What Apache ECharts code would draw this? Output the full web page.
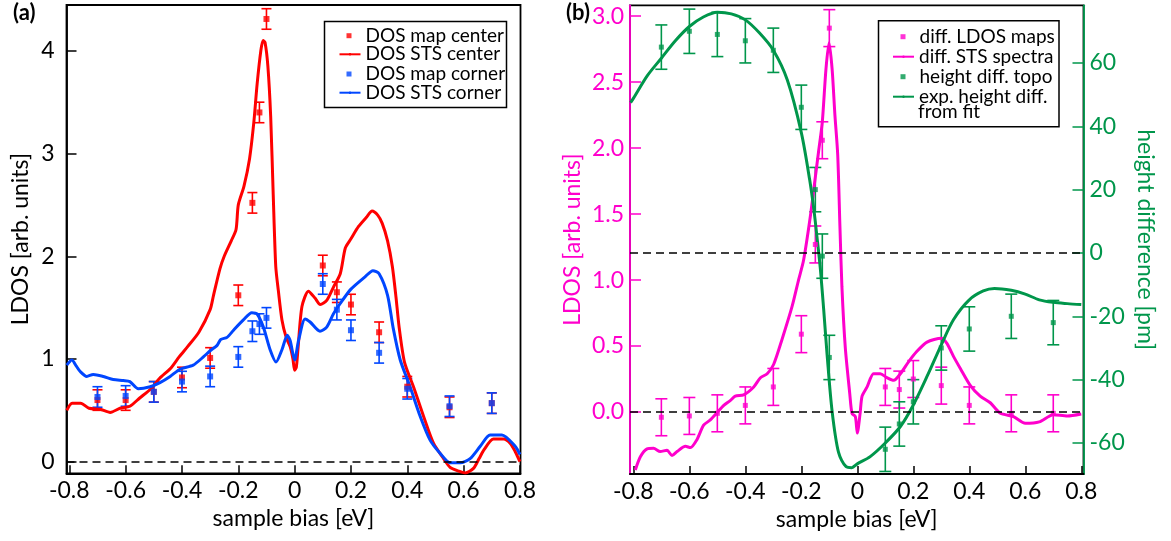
<!DOCTYPE html>
<html>
<head>
<meta charset="utf-8">
<style>
  html, body { margin: 0; padding: 0; background: #fff; }
  #chart { width: 1171px; height: 541px; }
</style>
</head>
<body>
<div id="chart"></div>
<script src="https://cdn.jsdelivr.net/npm/echarts@6.0.0/dist/echarts.min.js"></script>
<script>
// ---- (a) DOS maps: bias [eV], LDOS and error ----
const mapBias = [-0.7, -0.6, -0.5, -0.4, -0.3, -0.2, -0.15, -0.125, -0.1, 0.1, 0.15, 0.2, 0.3, 0.4, 0.55, 0.7];
const mapCenter = [0.6, 0.6, 0.68, 0.82, 1.01, 1.62, 2.52, 3.4, 4.31, 1.91, 1.65, 1.53, 1.26, 0.73, 0.53, 0.57];
const mapCenterErr = [0.1, 0.1, 0.1, 0.1, 0.1, 0.1, 0.1, 0.1, 0.1, 0.1, 0.1, 0.1, 0.1, 0.1, 0.1, 0.1];
const mapCorner = [0.63, 0.64, 0.68, 0.78, 0.83, 1.02, 1.27, 1.34, 1.4, 1.73, 1.48, 1.28, 1.06, 0.71, 0.54, 0.57];
const mapCornerErr = [0.1, 0.1, 0.1, 0.1, 0.1, 0.1, 0.1, 0.1, 0.1, 0.1, 0.1, 0.1, 0.1, 0.1, 0.1, 0.1];

// ---- (a) STS spectra: [bias, LDOS] ----
const stsCenter = [
  [-0.809, 0.5], [-0.79, 0.57], [-0.76, 0.57], [-0.73, 0.52], [-0.69, 0.51], [-0.655, 0.48],
  [-0.62, 0.52], [-0.585, 0.54], [-0.55, 0.62], [-0.51, 0.71], [-0.48, 0.81], [-0.44, 0.91],
  [-0.41, 1.02], [-0.38, 1.12], [-0.34, 1.26], [-0.3, 1.48], [-0.288, 1.62], [-0.265, 1.88],
  [-0.25, 2.0], [-0.225, 2.15], [-0.208, 2.26], [-0.2, 2.5], [-0.18, 2.68], [-0.16, 2.95],
  [-0.145, 3.3], [-0.133, 3.68], [-0.12, 4.0], [-0.112, 4.1], [-0.105, 4.08], [-0.095, 3.85],
  [-0.085, 3.36], [-0.076, 2.6], [-0.067, 1.9], [-0.058, 1.67], [-0.045, 1.38], [-0.03, 1.21],
  [-0.016, 1.12], [-0.006, 1.0], [0, 0.89], [0.006, 0.92], [0.012, 1.1], [0.026, 1.51],
  [0.049, 1.66], [0.073, 1.59], [0.091, 1.53], [0.114, 1.57], [0.138, 1.7], [0.162, 1.83],
  [0.18, 2.08], [0.2, 2.17], [0.227, 2.29], [0.255, 2.38], [0.275, 2.44], [0.295, 2.4],
  [0.311, 2.32], [0.33, 2.15], [0.347, 1.9], [0.36, 1.6], [0.371, 1.31], [0.39, 0.97],
  [0.422, 0.73], [0.458, 0.44], [0.493, 0.18], [0.529, 0.03], [0.552, -0.055], [0.58, -0.09],
  [0.606, -0.11], [0.635, -0.065], [0.655, 0.03], [0.671, 0.11], [0.706, 0.22], [0.742, 0.22],
  [0.765, 0.18], [0.783, 0.1], [0.8, 0.0]
];
const stsCorner = [
  [-0.809, 0.94], [-0.791, 0.99], [-0.775, 0.93], [-0.762, 0.88], [-0.738, 0.83], [-0.715, 0.85],
  [-0.679, 0.83], [-0.644, 0.8], [-0.608, 0.79], [-0.585, 0.78], [-0.555, 0.71], [-0.513, 0.73],
  [-0.478, 0.77], [-0.442, 0.83], [-0.407, 0.9], [-0.36, 0.94], [-0.324, 1.02], [-0.3, 1.08],
  [-0.276, 1.13], [-0.262, 1.19], [-0.24, 1.21], [-0.217, 1.28], [-0.182, 1.38], [-0.152, 1.45],
  [-0.134, 1.44], [-0.111, 1.31], [-0.087, 1.09], [-0.066, 0.97], [-0.045, 1.09], [-0.026, 1.23],
  [-0.016, 1.18], [0, 0.99], [0.014, 1.18], [0.037, 1.39], [0.055, 1.36], [0.09, 1.27],
  [0.114, 1.31], [0.138, 1.44], [0.162, 1.54], [0.2, 1.68], [0.25, 1.8], [0.278, 1.86],
  [0.3, 1.83], [0.33, 1.62], [0.35, 1.3], [0.375, 0.99], [0.41, 0.73], [0.446, 0.44],
  [0.481, 0.21], [0.517, 0.08], [0.552, -0.01], [0.588, -0.01], [0.623, 0.03], [0.659, 0.15],
  [0.694, 0.26], [0.736, 0.26], [0.783, 0.15], [0.8, 0.07]
];

// ---- (b) difference maps and topography heights ----
const diffBias = [-0.7, -0.6, -0.5, -0.4, -0.3, -0.2, -0.15, -0.125, -0.1, 0.1, 0.15, 0.2, 0.3, 0.4, 0.55, 0.7];
const diffMap = [-0.04, -0.03, -0.01, 0.05, 0.19, 0.59, 1.27, 2.06, 2.91, 0.19, 0.17, 0.25, 0.2, 0.05, -0.01, -0.01];
const diffMapErr = [0.14, 0.14, 0.14, 0.14, 0.14, 0.14, 0.14, 0.14, 0.14, 0.14, 0.14, 0.14, 0.14, 0.14, 0.14, 0.14];
const topoHeight = [65, 70, 69, 67, 64, 46, 20, -1, -33, -62, -54, -47, -30, -24, -20, -22];
const topoErr = [7, 7, 7, 7, 7, 7, 7, 7, 7, 7, 7, 7, 7, 7, 7, 7];

// ---- (b) curves: [bias, value] ----
const diffSts = [
  [-0.793, -0.44], [-0.775, -0.34], [-0.751, -0.28], [-0.728, -0.275], [-0.704, -0.3], [-0.68, -0.29],
  [-0.662, -0.33], [-0.644, -0.3], [-0.614, -0.26], [-0.596, -0.27], [-0.573, -0.21], [-0.549, -0.1],
  [-0.525, -0.06], [-0.501, -0.005], [-0.477, 0.05], [-0.454, 0.086], [-0.436, 0.12], [-0.406, 0.13],
  [-0.37, 0.19], [-0.346, 0.26], [-0.322, 0.29], [-0.299, 0.36], [-0.269, 0.55], [-0.233, 0.8],
  [-0.21, 1.0], [-0.192, 1.15], [-0.168, 1.48], [-0.15, 1.78], [-0.138, 1.98], [-0.125, 2.2],
  [-0.112, 2.6], [-0.101, 2.8], [-0.09, 2.6], [-0.08, 2.25], [-0.07, 1.95], [-0.062, 1.4],
  [-0.055, 0.95], [-0.043, 0.49], [-0.027, 0.14], [-0.019, -0.01], [-0.007, -0.035], [0, -0.16],
  [0.01, -0.01], [0.017, 0.12], [0.035, 0.19], [0.058, 0.29], [0.082, 0.29], [0.106, 0.26],
  [0.13, 0.24], [0.154, 0.29], [0.183, 0.38], [0.213, 0.46], [0.249, 0.53], [0.3, 0.56],
  [0.32, 0.52], [0.344, 0.42], [0.368, 0.33], [0.404, 0.2], [0.439, 0.12], [0.475, 0.07],
  [0.511, -0.01], [0.558, -0.035], [0.6, -0.086], [0.65, -0.075], [0.7, -0.02], [0.75, -0.03],
  [0.8, -0.015]
];
const heightFit = [
  [-0.81, 47.5], [-0.8, 48.8], [-0.75, 56], [-0.7, 61.5], [-0.65, 67], [-0.6, 71.5], [-0.55, 74.5],
  [-0.5, 76], [-0.45, 75.5], [-0.4, 73.6], [-0.35, 69.5], [-0.3, 64], [-0.25, 54.6], [-0.2, 38],
  [-0.17, 23], [-0.155, 13.6], [-0.144, 5], [-0.132, -5], [-0.12, -18], [-0.108, -32], [-0.09, -50],
  [-0.067, -63], [-0.04, -67.5], [-0.02, -67.8], [0, -66.6], [0.046, -64.3], [0.1, -60], [0.154, -54.8],
  [0.2, -48], [0.249, -39], [0.3, -29], [0.344, -21], [0.4, -14.8], [0.45, -12], [0.49, -11.2],
  [0.55, -11.8], [0.6, -13], [0.65, -14.8], [0.7, -15.6], [0.75, -16], [0.8, -16.3]
];

// ---- tick values ----
const biasTicks = [-0.8, -0.6, -0.4, -0.2, 0, 0.2, 0.4, 0.6, 0.8];
const ldosTicksA = [0, 1, 2, 3, 4];
const ldosTicksB = [0, 0.5, 1, 1.5, 2, 2.5, 3];
const heightTicks = [-60, -40, -20, 0, 20, 40, 60];

const RED = '#ff0000';
const BLUE = '#0046ff';
const MAGENTA = '#ff00cc';
const GREEN = '#00964b';
const FONT = 'Lato';

const chart = echarts.init(document.getElementById('chart'));

function withErr(xs, ys, errs) {
  return xs.map((x, i) => [x, ys[i] - errs[i], ys[i] + errs[i]]);
}
function pairs(xs, ys) {
  return xs.map((x, i) => [x, ys[i]]);
}

function errorBars(color, halfCap) {
  return function (params, api) {
    const x = api.value(0);
    const lo = api.coord([x, api.value(1)]);
    const hi = api.coord([x, api.value(2)]);
    const style = { stroke: color, lineWidth: 1.6 };
    return {
      type: 'group',
      children: [
        { type: 'line', shape: { x1: lo[0], y1: lo[1], x2: hi[0], y2: hi[1] }, style },
        { type: 'line', shape: { x1: lo[0] - halfCap, y1: lo[1], x2: lo[0] + halfCap, y2: lo[1] }, style },
        { type: 'line', shape: { x1: hi[0] - halfCap, y1: hi[1], x2: hi[0] + halfCap, y2: hi[1] }, style }
      ]
    };
  };
}

const fmtBias = (v) => (v === 0 ? '0' : v.toFixed(1));
const tickFont = { fontFamily: FONT, fontSize: 23 };

function biasAxis(gridIndex, min, max) {
  return {
    type: 'value', gridIndex, min, max,
    axisLine: { show: true, onZero: false, lineStyle: { color: '#000', width: 1.8 } },
    axisTick: { show: true, inside: true, length: 8, customValues: biasTicks, lineStyle: { color: '#000', width: 1.5 } },
    axisLabel: { customValues: biasTicks, formatter: fmtBias, color: '#000', margin: 6, ...tickFont },
    splitLine: { show: false },
    name: 'sample bias [eV]', nameLocation: 'middle', nameGap: 33,
    nameTextStyle: { color: '#000', ...tickFont }
  };
}

function legendItem(name, left, top, isLine) {
  return {
    data: [{ name, icon: isLine ? undefined : 'rect' }],
    left, top, padding: 0, selectedMode: false,
    itemWidth: isLine ? 21 : 5, itemHeight: isLine ? 3 : 5,
    textStyle: { fontFamily: FONT, fontSize: 19, lineHeight: 20, color: '#000', padding: isLine ? 0 : [0, 0, 0, 9] }
  };
}

const dashed = (y) => ({
  silent: true, symbol: 'none', animation: false,
  label: { show: false },
  lineStyle: { color: '#000', type: [8, 5], width: 1.5 },
  data: [{ yAxis: y }]
});

chart.setOption({
  animation: false,
  backgroundColor: '#fff',
  title: [
    { text: '(a)', left: 13, top: 2, padding: 0, textStyle: { fontFamily: FONT, fontSize: 22, fontWeight: 'bold', color: '#000' } },
    { text: '(b)', left: 566, top: 2, padding: 0, textStyle: { fontFamily: FONT, fontSize: 22, fontWeight: 'bold', color: '#000' } }
  ],
  grid: [
    { left: 66.5, top: 5, width: 454, height: 468.3, show: true, borderColor: '#000', borderWidth: 1.8 },
    { left: 630, top: 5.3, width: 453.5, height: 468.7, show: true, borderColor: '#000', borderWidth: 1.8 }
  ],
  xAxis: [biasAxis(0, -0.81, 0.802), biasAxis(1, -0.812, 0.808)],
  yAxis: [
    {
      type: 'value', gridIndex: 0, min: -0.113, max: 4.446,
      axisLine: { show: true, onZero: false, lineStyle: { color: '#000', width: 1.8 } },
      axisTick: { show: true, inside: true, length: 10, customValues: ldosTicksA, lineStyle: { color: '#000', width: 1.5 } },
      axisLabel: { customValues: ldosTicksA, formatter: (v) => String(v), color: '#000', margin: 12, ...tickFont },
      splitLine: { show: false },
      name: 'LDOS [arb. units]', nameLocation: 'middle', nameGap: 34,
      nameTextStyle: { color: '#000', ...tickFont }
    },
    {
      type: 'value', gridIndex: 1, position: 'left', min: -0.47, max: 3.083,
      axisLine: { show: true, onZero: false, lineStyle: { color: MAGENTA, width: 1.8 } },
      axisTick: { show: true, inside: true, length: 11, customValues: ldosTicksB, lineStyle: { color: MAGENTA, width: 1.5 } },
      axisLabel: { customValues: ldosTicksB, formatter: (v) => v.toFixed(1), color: MAGENTA, margin: 6, ...tickFont },
      splitLine: { show: false },
      name: 'LDOS [arb. units]', nameLocation: 'middle', nameGap: 46,
      nameTextStyle: { color: MAGENTA, ...tickFont }
    },
    {
      type: 'value', gridIndex: 1, position: 'right', min: -69.8, max: 78.2,
      axisLine: { show: true, onZero: false, lineStyle: { color: GREEN, width: 1.8 } },
      axisTick: { show: true, inside: true, length: 11, customValues: heightTicks, lineStyle: { color: GREEN, width: 1.5 } },
      axisLabel: { customValues: heightTicks, formatter: (v) => String(v), color: GREEN, margin: 6, ...tickFont },
      splitLine: { show: false },
      name: 'height difference [pm]', nameLocation: 'middle', nameGap: 50, nameRotate: -90,
      nameTextStyle: { color: GREEN, ...tickFont }
    }
  ],
  legend: [
    legendItem('DOS map center', 346.5, 25.7, false),
    legendItem('DOS STS center', 338.5, 44.3, true),
    legendItem('DOS map corner', 346.5, 64, false),
    legendItem('DOS STS corner', 338.5, 82.7, true),
    legendItem('diff. LDOS maps', 900.5, 26.7, false),
    legendItem('diff. STS spectra', 892, 46.7, true),
    legendItem('height diff. topo', 900.5, 66.7, false),
    legendItem('exp. height diff.', 892, 86.7, true)
  ],
  graphic: [
    { type: 'rect', z: 3, shape: { x: 324.5, y: 21.5, width: 182, height: 86 }, style: { fill: '#fff', stroke: '#000', lineWidth: 1.5 } },
    { type: 'rect', z: 3, shape: { x: 878.5, y: 20.7, width: 180.5, height: 106 }, style: { fill: '#fff', stroke: '#000', lineWidth: 1.5 } },
    { type: 'text', z: 5, left: 918, top: 102.5, style: { text: 'from fit', fill: '#000', font: '19px Lato' } }
  ],
  series: [
    // ---- panel (a) ----
    {
      name: 'DOS STS center', type: 'line', xAxisIndex: 0, yAxisIndex: 0,
      data: stsCenter, symbol: 'none', smooth: 0.25,
      lineStyle: { color: RED, width: 3 }, itemStyle: { color: RED },
      markLine: dashed(0)
    },
    {
      name: 'DOS STS corner', type: 'line', xAxisIndex: 0, yAxisIndex: 0,
      data: stsCorner, symbol: 'none', smooth: 0.25,
      lineStyle: { color: BLUE, width: 3 }, itemStyle: { color: BLUE }
    },
    {
      name: 'centerErr', type: 'custom', xAxisIndex: 0, yAxisIndex: 0,
      data: withErr(mapBias, mapCenter, mapCenterErr),
      encode: { x: 0, y: [1, 2] }, renderItem: errorBars(RED, 5), z: 3
    },
    {
      name: 'cornerErr', type: 'custom', xAxisIndex: 0, yAxisIndex: 0,
      data: withErr(mapBias, mapCorner, mapCornerErr),
      encode: { x: 0, y: [1, 2] }, renderItem: errorBars(BLUE, 5), z: 3
    },
    {
      name: 'DOS map center', type: 'scatter', xAxisIndex: 0, yAxisIndex: 0,
      data: pairs(mapBias, mapCenter), symbol: 'rect', symbolSize: 6,
      itemStyle: { color: RED }, z: 4
    },
    {
      name: 'DOS map corner', type: 'scatter', xAxisIndex: 0, yAxisIndex: 0,
      data: pairs(mapBias, mapCorner), symbol: 'rect', symbolSize: 6,
      itemStyle: { color: BLUE }, z: 4
    },
    // ---- panel (b) ----
    {
      name: 'diff. STS spectra', type: 'line', xAxisIndex: 1, yAxisIndex: 1,
      data: diffSts, symbol: 'none', smooth: 0.25,
      lineStyle: { color: MAGENTA, width: 3 }, itemStyle: { color: MAGENTA },
      markLine: dashed(0)
    },
    {
      name: 'exp. height diff.', type: 'line', xAxisIndex: 1, yAxisIndex: 2,
      data: heightFit, symbol: 'none', smooth: 0.3,
      lineStyle: { color: GREEN, width: 3 }, itemStyle: { color: GREEN },
      markLine: dashed(0)
    },
    {
      name: 'diffErr', type: 'custom', xAxisIndex: 1, yAxisIndex: 1,
      data: withErr(diffBias, diffMap, diffMapErr),
      encode: { x: 0, y: [1, 2] }, renderItem: errorBars(MAGENTA, 6), z: 3
    },
    {
      name: 'topoErr', type: 'custom', xAxisIndex: 1, yAxisIndex: 2,
      data: withErr(diffBias, topoHeight, topoErr),
      encode: { x: 0, y: [1, 2] }, renderItem: errorBars(GREEN, 6), z: 3
    },
    {
      name: 'diff. LDOS maps', type: 'scatter', xAxisIndex: 1, yAxisIndex: 1,
      data: pairs(diffBias, diffMap), symbol: 'rect', symbolSize: 5,
      itemStyle: { color: MAGENTA }, z: 4
    },
    {
      name: 'height diff. topo', type: 'scatter', xAxisIndex: 1, yAxisIndex: 2,
      data: pairs(diffBias, topoHeight), symbol: 'rect', symbolSize: 5,
      itemStyle: { color: GREEN }, z: 4
    }
  ]
});
</script>
</body>
</html>
